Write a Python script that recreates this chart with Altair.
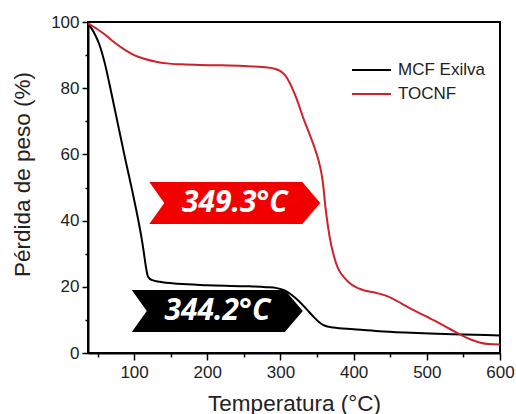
import altair as alt
import pandas as pd

# --- data -------------------------------------------------------------------
mcf_temp = [37, 42, 47, 52, 56, 60, 69, 78, 88, 97, 102, 106, 110, 113, 116,
            118.5, 121, 125, 135, 160, 200, 250, 280, 295, 305, 315, 325, 335,
            345, 353, 360, 372, 400, 435, 470, 504, 550, 600]
mcf_loss = [99.3, 98.0, 96.0, 93.5, 90.8, 87.5, 78.5, 69.0, 58.5, 49.5, 44.2,
            39.8, 35.0, 30.8, 26.2, 23.4, 22.5, 22.0, 21.5, 20.9, 20.5, 20.2,
            19.9, 19.6, 19.0, 17.6, 15.7, 13.4, 11.0, 9.3, 8.3, 7.7, 7.2, 6.6,
            6.2, 5.9, 5.6, 5.3]

tocnf_temp = [37, 50, 60, 75, 88, 100, 115, 130, 145, 165, 190, 220, 250, 275,
              292, 306, 320, 333, 340, 347, 352, 356, 358.5, 361, 363.5, 367,
              376, 390, 413, 430, 449, 465, 481, 500, 517, 533, 549, 561, 572,
              585, 600]
tocnf_loss = [99.6, 97.8, 96.2, 93.5, 91.5, 90.0, 88.8, 88.0, 87.5, 87.2, 87.0,
              86.9, 86.7, 86.4, 85.9, 84.0, 78.0, 69.9, 66.0, 61.8, 58.2, 54.3,
              50.5, 45.0, 40.5, 35.3, 27.1, 22.1, 19.0, 18.2, 16.9, 15.0, 13.0,
              11.0, 9.0, 7.1, 5.2, 4.0, 3.2, 2.7, 2.6]

series_names = ["MCF Exilva", "TOCNF"]
series_colors = ["#000000", "#d0202a"]

ann_temp = [237.6, 213.7]
ann_loss = [45.3, 12.7]
ann_text = ["349.3°C", "344.2°C"]
ann_fill = ["#f20000", "#000000"]

x_ticks = list(range(50, 601, 50))
y_ticks = list(range(0, 101, 10))

# --- tables -------------------------------------------------------------------
rows = []
for name, ts, vs in [(series_names[0], mcf_temp, mcf_loss),
                     (series_names[1], tocnf_temp, tocnf_loss)]:
    for i, (t, v) in enumerate(zip(ts, vs)):
        rows.append({"serie": name, "temp": t, "loss": v, "idx": i})
df = pd.DataFrame(rows)

ann = pd.DataFrame({"temp": ann_temp, "loss": ann_loss, "text": ann_text,
                    "fill": ann_fill})

FONT = "Liberation Sans"
x_scale = alt.Scale(domain=[37, 600], nice=False, zero=False)
y_scale = alt.Scale(domain=[0, 100], nice=False, zero=False)

x_axis = alt.Axis(
    values=x_ticks,
    labelExpr="datum.value % 100 === 0 ? datum.label : ''",
    tickSize={"condition": {"test": "datum.value % 100 === 0", "value": 7}, "value": 4},
    labelPadding=4, labelFlush=False, labelOverlap=False,
    title="Temperatura (°C)", titleY=50, titleBaseline="middle",
)
y_axis = alt.Axis(
    values=y_ticks,
    labelExpr="datum.value % 20 === 0 ? datum.label : ''",
    tickSize={"condition": {"test": "datum.value % 20 === 0", "value": 6}, "value": 3},
    labelPadding=3, labelFlush=False, labelOverlap=False,
    title="Pérdida de peso (%)", titleX=-66, titleY=152, titleBaseline="middle",
)

X = alt.X("temp:Q", scale=x_scale, axis=x_axis)
Y = alt.Y("loss:Q", scale=y_scale, axis=y_axis)

lines = alt.Chart(df).mark_line(strokeWidth=2, interpolate="monotone").encode(
    x=X, y=Y,
    color=alt.Color("serie:N",
                    scale=alt.Scale(domain=series_names, range=series_colors),
                    legend=alt.Legend(title=None, orient="none", legendX=288,
                                      legendY=39.5, symbolType="M -5 0 L 1 0",
                                      symbolSize=169, symbolStrokeWidth=2,
                                      labelOffset=5, rowPadding=6, padding=0,
                                      labelFont=FONT, labelFontSize=17,
                                      labelColor="#222")),
    order=alt.Order("idx:Q"),
)

banner_path = "M -1 -0.246 L 0.79 -0.246 L 1 0 L 0.79 0.246 L -1 0.246 L -0.825 0 Z"
banners = alt.Chart(ann).mark_point(shape=banner_path, filled=True, size=171 * 171,
                                    opacity=1, strokeWidth=0).encode(
    x=X, y=Y,
    fill=alt.Fill("fill:N", scale=None),
)

labels = alt.Chart(ann).mark_text(font="Open Sans", fontSize=30, fontWeight="bold",
                                  fontStyle="italic", color="white",
                                  baseline="middle", align="center").encode(
    x=X, y=Y,
    text="text:N",
)

chart = alt.layer(lines, banners, labels).properties(
    width=412, height=331,
    autosize=alt.AutoSizeParams(type="none"),
    padding={"left": 88, "top": 22, "right": 16, "bottom": 61},
    background="white",
).configure_view(
    stroke="black", strokeWidth=2
).configure_axis(
    grid=False, domainColor="black", domainWidth=2, tickColor="black",
    tickWidth=1.5, labelFont=FONT, labelFontSize=17, labelColor="#222",
    titleFont=FONT, titleFontSize=22.5, titleFontWeight="normal", titleColor="#222",
)

chart.save("out.html", embed_options={"renderer": "svg", "actions": False})
